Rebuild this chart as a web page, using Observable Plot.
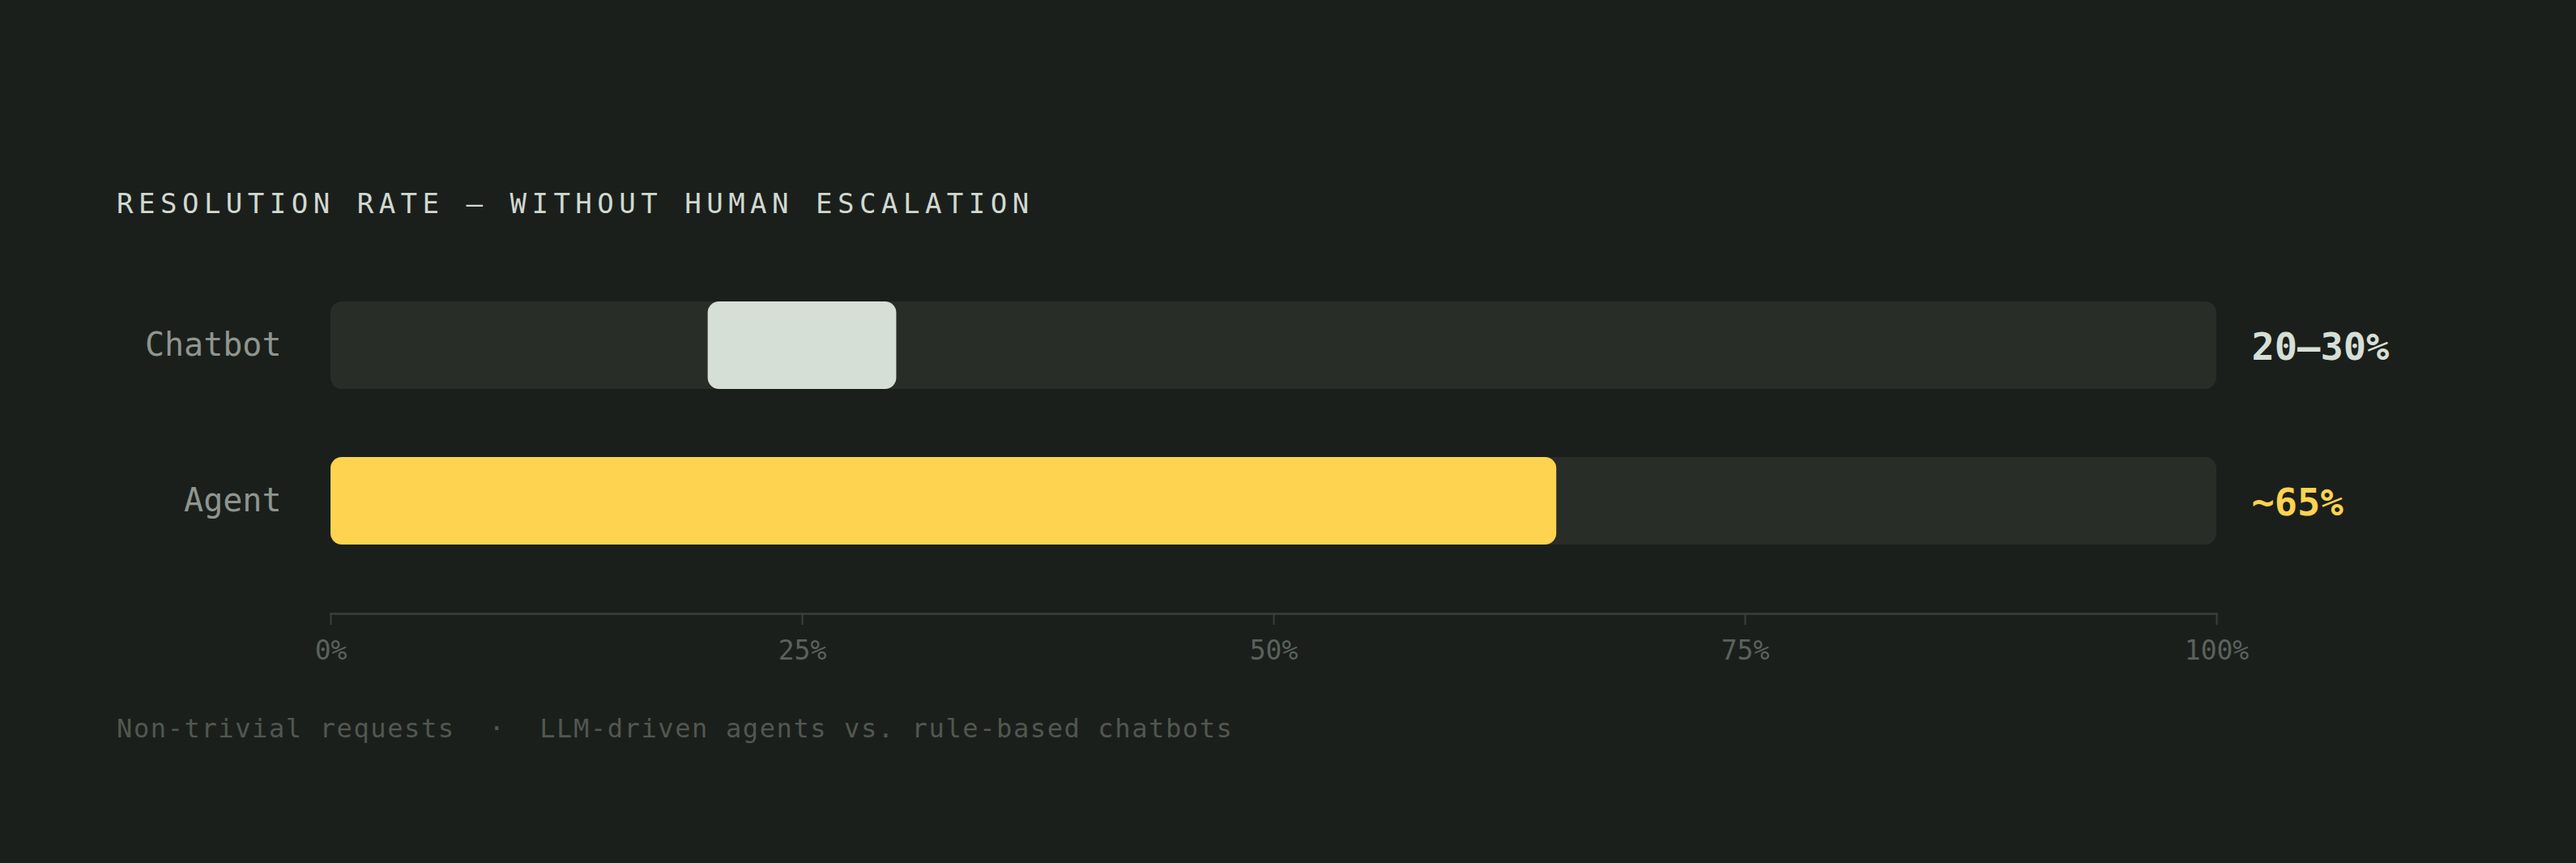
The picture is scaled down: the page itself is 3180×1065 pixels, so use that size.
<!DOCTYPE html>
<html><head><meta charset="utf-8">
<script src="https://cdn.jsdelivr.net/npm/d3@7"></script>
<script src="https://cdn.jsdelivr.net/npm/@observablehq/plot@0.6"></script>
<style>
html,body{margin:0;padding:0;background:#1b1f1c;width:3180px;height:1065px;overflow:hidden;}
#title{position:absolute;left:144px;top:231px;font-family:"DejaVu Sans Mono",monospace;font-size:34px;line-height:40px;letter-spacing:6.5px;color:#d0d9d0;white-space:nowrap;}
#chart{position:absolute;left:0;top:300px;}
#caption{position:absolute;left:144px;top:879px;font-family:"DejaVu Sans Mono",monospace;font-size:32px;line-height:40px;letter-spacing:1.62px;color:#50584f;white-space:pre;}
</style></head>
<body>
<div id="title">RESOLUTION RATE — WITHOUT HUMAN ESCALATION</div>
<div id="chart"></div>
<div id="caption">Non-trivial requests  ·  LLM-driven agents vs. rule-based chatbots</div>
<script>
const categories = ["Chatbot", "Agent"];
const rangeLow = [20, 0];
const rangeHigh = [30, 65];
const valueLabels = ["20–30%", "~65%"];
const trackMax = 100;
const xTicks = [0, 25, 50, 75, 100];
const tickLabels = ["0%", "25%", "50%", "75%", "100%"];

const rows = categories.map((c, i) => ({category: c, low: rangeLow[i], high: rangeHigh[i], label: valueLabels[i], track: trackMax}));
const FONT = "DejaVu Sans Mono, monospace";

const chart = Plot.plot({
  width: 3180,
  height: 560,
  marginLeft: 408,
  marginRight: 444,
  marginTop: 0,
  marginBottom: 103,
  style: {background: "#1b1f1c", overflow: "visible"},
  x: {domain: [0, trackMax]},
  y: {domain: categories, range: [72, 372], paddingInner: 0.4375, paddingOuter: 0},
  color: {domain: categories, range: ["#d5dfd6", "#fdd34f"]},
  marks: [
    Plot.barX(rows, {y: "category", x1: 0, x2: "track", fill: "#282d28", rx: 14}),
    Plot.barX(rows, {y: "category", x1: "low", x2: "high", fill: "category", rx: 14}),
    Plot.text(rows, {y: "category", x: "track", text: "label", fill: "category", textAnchor: "start", dx: 43, dy: 2, fontSize: 47, fontWeight: "bold", fontFamily: FONT}),
    Plot.axisY({tickSize: 0, tickPadding: 61, fontSize: 40, fill: "#8e968f", fontFamily: FONT, label: null}),
    Plot.frame({anchor: "bottom", stroke: "#3a403b", strokeWidth: 2.5}),
    Plot.axisX({ticks: xTicks, tickFormat: d => tickLabels[xTicks.indexOf(d)], tickSize: 14, tickPadding: 19, stroke: "#3a403b", strokeWidth: 2, fill: "#5a625c", fontSize: 33, fontFamily: FONT, label: null})
  ]
});
document.getElementById("chart").appendChild(chart);
</script>
</body></html>
